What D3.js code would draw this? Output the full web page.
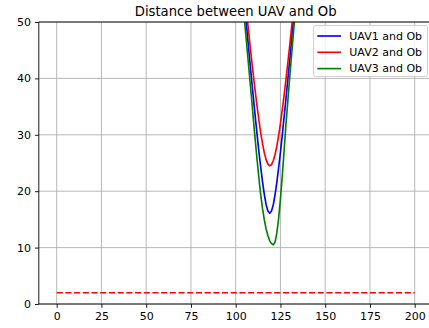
<!DOCTYPE html>
<html>
<head>
<meta charset="utf-8">
<script src="https://cdn.jsdelivr.net/npm/d3@7"></script>
<style>
  html, body { margin: 0; padding: 0; background: #fff; overflow: hidden; }
  svg { display: block; font-family: "DejaVu Sans", sans-serif; }
</style>
</head>
<body>
<svg id="chart" width="429" height="328"></svg>
<script>
// Time steps around the closest approach
const timeSteps = [100, 101, 102, 103, 104, 105, 106, 107, 108, 109, 110, 111, 112, 113, 114, 115, 116, 117, 118, 119,
                   120, 121, 122, 123, 124, 125, 126, 127, 128, 129, 130, 131, 132, 133, 134, 135, 136, 137, 138];

// Distance from each UAV to the obstacle
const uav1Dist = [70.3, 66.8, 63.3, 59.8, 56.3, 52.9, 49.5, 46.1, 42.7, 39.4, 36.2, 33.0, 29.9, 26.9, 24.2, 21.6, 19.4, 17.6, 16.5, 16.1,
                  16.5, 17.6, 19.4, 21.6, 24.2, 26.9, 29.9, 33.0, 36.2, 39.4, 42.7, 46.1, 49.5, 52.9, 56.3, 59.8, 63.3, 66.8, 70.3];
const uav2Dist = [71.2, 67.9, 64.7, 61.4, 58.2, 55.1, 52.0, 48.9, 45.9, 43.0, 40.2, 37.5, 34.9, 32.5, 30.3, 28.4, 26.8, 25.6, 24.8, 24.5,
                  24.7, 25.4, 26.5, 28.0, 29.9, 32.0, 34.4, 36.9, 39.6, 42.4, 45.3, 48.3, 51.4, 54.5, 57.6, 60.8, 64.0, 67.3, 70.5];
const uav3Dist = [67.5, 64.0, 60.5, 57.0, 53.5, 50.0, 46.5, 43.0, 39.5, 36.0, 32.3, 28.8, 25.4, 22.2, 19.3, 16.9, 14.9, 13.3, 12.1, 11.2,
                  10.7, 10.5, 11.0, 12.6, 15.2, 18.6, 22.6, 27.0, 31.5, 35.5, 39.5, 43.3, 47.1, 50.8, 54.5, 58.1, 61.7, 65.3, 68.8];

// Safety distance threshold
const safeT = [0, 200];
const safeD = [2, 2];

const seriesNames = ["UAV1 and Ob", "UAV2 and Ob", "UAV3 and Ob"];
const seriesColors = ["#0000ff", "#ff0000", "#008000"];
const seriesData = [uav1Dist, uav2Dist, uav3Dist];

const xTicks = [0, 25, 50, 75, 100, 125, 150, 175, 200];
const yTicks = [0, 10, 20, 30, 40, 50];
const title = "Distance between UAV and Ob";

const svg = d3.select("#chart");
const plot = { left: 38.8, right: 432.6, top: 22, bottom: 304 };
const lw = 1.65;

const x = d3.scaleLinear().domain([-10, 210]).range([plot.left, plot.right]);
const y = d3.scaleLinear().domain([0, 50]).range([plot.bottom, plot.top]);

svg.append("defs").append("clipPath").attr("id", "clip")
  .append("rect")
  .attr("x", plot.left).attr("y", plot.top)
  .attr("width", plot.right - plot.left).attr("height", plot.bottom - plot.top);

// Grid
const grid = svg.append("g").attr("stroke", "#b0b0b0").attr("stroke-width", 0.9);
grid.selectAll("line.gx").data(xTicks).join("line")
  .attr("x1", d => x(d)).attr("x2", d => x(d))
  .attr("y1", plot.top).attr("y2", plot.bottom);
grid.selectAll("line.gy").data(yTicks).join("line")
  .attr("x1", plot.left).attr("x2", plot.right)
  .attr("y1", d => y(d)).attr("y2", d => y(d));

// Series
const lines = svg.append("g").attr("clip-path", "url(#clip)");
const line = d3.line().x(d => x(d[0])).y(d => y(d[1]));

lines.append("path")
  .datum(safeT.map((t, i) => [t, safeD[i]]))
  .attr("d", line)
  .attr("fill", "none")
  .attr("stroke", "#ff0000")
  .attr("stroke-width", lw)
  .attr("stroke-dasharray", "6.1,2.6");

seriesData.forEach((vals, k) => {
  lines.append("path")
    .datum(timeSteps.map((t, i) => [t, vals[i]]))
    .attr("d", line)
    .attr("fill", "none")
    .attr("stroke", seriesColors[k])
    .attr("stroke-width", lw)
    .attr("stroke-linejoin", "round");
});

// Axes
const xAxis = d3.axisBottom(x).tickValues(xTicks).tickSize(3.85).tickPadding(3.85);
const yAxis = d3.axisLeft(y).tickValues(yTicks).tickSize(3.85).tickPadding(3.85);

const gx = svg.append("g").attr("transform", `translate(0,${plot.bottom})`).call(xAxis);
const gy = svg.append("g").attr("transform", `translate(${plot.left},0)`).call(yAxis);
[gx, gy].forEach(g => {
  g.select(".domain").remove();
  g.selectAll("line").attr("stroke", "#000").attr("stroke-width", 0.9);
  g.selectAll("text").attr("fill", "#000").attr("font-size", "11px")
    .attr("font-family", "DejaVu Sans, sans-serif");
});

// Spines
const spines = svg.append("g").attr("stroke", "#000").attr("stroke-width", 0.9);
spines.append("line").attr("x1", plot.left).attr("x2", plot.right).attr("y1", plot.top).attr("y2", plot.top);
spines.append("line").attr("x1", plot.left).attr("x2", plot.right).attr("y1", plot.bottom).attr("y2", plot.bottom);
spines.append("line").attr("x1", plot.left).attr("x2", plot.left).attr("y1", plot.top).attr("y2", plot.bottom);
spines.append("line").attr("x1", plot.right).attr("x2", plot.right).attr("y1", plot.top).attr("y2", plot.bottom);

// Title
svg.append("text")
  .attr("x", (plot.left + plot.right) / 2)
  .attr("y", 16)
  .attr("text-anchor", "middle")
  .attr("font-size", "13.2px")
  .attr("fill", "#000")
  .text(title);

// Legend
const legend = svg.append("g");
legend.append("rect")
  .attr("x", 313.5).attr("y", 25.5)
  .attr("width", 114).attr("height", 51)
  .attr("rx", 2).attr("ry", 2)
  .attr("fill", "#fff").attr("fill-opacity", 0.8)
  .attr("stroke", "#cccccc").attr("stroke-width", 0.9);

seriesNames.forEach((name, k) => {
  const cy = 36 + k * 16.3;
  legend.append("line")
    .attr("x1", 317.3).attr("x2", 341)
    .attr("y1", cy).attr("y2", cy)
    .attr("stroke", seriesColors[k]).attr("stroke-width", lw);
  legend.append("text")
    .attr("x", 349.3).attr("y", cy)
    .attr("dy", "0.35em")
    .attr("font-size", "11px")
    .attr("fill", "#000")
    .text(name);
});
</script>
</body>
</html>
